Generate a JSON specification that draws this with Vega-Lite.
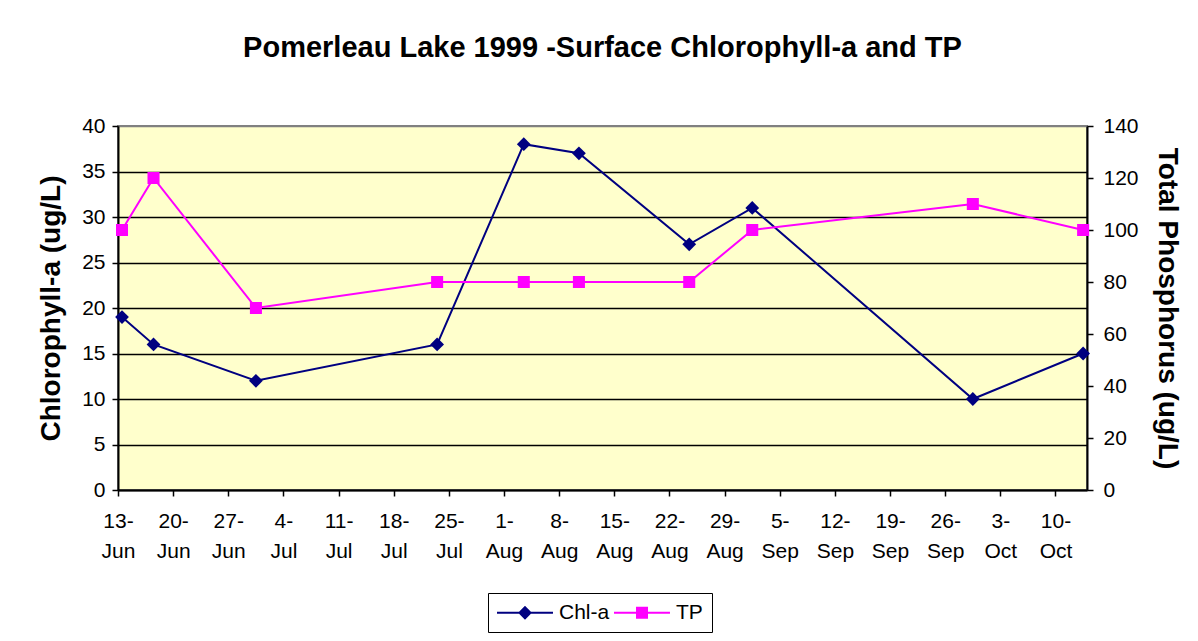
{
  "$schema": "https://vega.github.io/schema/vega-lite/v6.json",
  "width": 969,
  "height": 364,
  "autosize": {"type": "none"},
  "padding": {"left": 118, "top": 126, "right": 111, "bottom": 151},
  "background": "white",
  "title": {
    "text": "Pomerleau Lake 1999 -Surface Chlorophyll-a and TP",
    "font": "Liberation Sans",
    "fontSize": 29,
    "fontWeight": "bold",
    "color": "black",
    "anchor": "middle",
    "offset": 52
  },
  "config": {
    "font": "Liberation Sans",
    "view": {"fill": "#FFFFCC", "stroke": "#808080", "strokeWidth": 2},
    "axis": {
      "labelFont": "Liberation Sans",
      "labelFontSize": 21,
      "labelColor": "black",
      "titleFont": "Liberation Sans",
      "titleFontSize": 28,
      "titleFontWeight": "bold",
      "titleColor": "black",
      "domainColor": "black",
      "domainWidth": 2,
      "tickColor": "black",
      "tickWidth": 1.5,
      "tickSize": 6
    },
    "legend": {
      "labelFont": "Liberation Sans",
      "labelFontSize": 21,
      "labelColor": "black"
    }
  },
  "data": {
    "values": [
      {"date": "1999-06-13", "series": "Chl-a", "value": 19},
      {"date": "1999-06-17", "series": "Chl-a", "value": 16},
      {"date": "1999-06-30", "series": "Chl-a", "value": 12},
      {"date": "1999-07-23", "series": "Chl-a", "value": 16},
      {"date": "1999-08-03", "series": "Chl-a", "value": 38},
      {"date": "1999-08-10", "series": "Chl-a", "value": 37},
      {"date": "1999-08-24", "series": "Chl-a", "value": 27},
      {"date": "1999-09-01", "series": "Chl-a", "value": 31},
      {"date": "1999-09-29", "series": "Chl-a", "value": 10},
      {"date": "1999-10-13", "series": "Chl-a", "value": 15},
      {"date": "1999-06-13", "series": "TP", "value": 100},
      {"date": "1999-06-17", "series": "TP", "value": 120},
      {"date": "1999-06-30", "series": "TP", "value": 70},
      {"date": "1999-07-23", "series": "TP", "value": 80},
      {"date": "1999-08-03", "series": "TP", "value": 80},
      {"date": "1999-08-10", "series": "TP", "value": 80},
      {"date": "1999-08-24", "series": "TP", "value": 80},
      {"date": "1999-09-01", "series": "TP", "value": 100},
      {"date": "1999-09-29", "series": "TP", "value": 110},
      {"date": "1999-10-13", "series": "TP", "value": 100}
    ]
  },
  "encoding": {
    "x": {
      "field": "date",
      "type": "temporal",
      "scale": {
        "type": "utc",
        "domain": [
          {"year": 1999, "month": 6, "date": 13, "utc": true},
          {"year": 1999, "month": 10, "date": 14, "utc": true}
        ]
      },
      "axis": {
        "title": null,
        "grid": false,
        "tickCount": {"interval": "week", "step": 1},
        "labelExpr": "[utcFormat(datum.value, '%-d-'), utcFormat(datum.value, '%b')]",
        "labelLineHeight": 30,
        "labelPadding": 14,
        "labelAngle": 0,
        "labelOverlap": false,
        "labelFlush": false
      }
    },
    "color": {
      "field": "series",
      "type": "nominal",
      "scale": {"domain": ["Chl-a", "TP"], "range": ["#000080", "#FF00FF"]},
      "legend": {
        "title": null,
        "orient": "none",
        "legendX": 370,
        "legendY": 467,
        "direction": "horizontal",
        "strokeColor": "black",
        "fillColor": "white",
        "padding": 9,
        "columnPadding": 0,
        "labelOffset": 41,
        "symbolSize": 144,
        "symbolStrokeWidth": 2,
        "encode": {
          "symbols": {
            "update": {
              "shape": {"signal": "datum.value === 'Chl-a' ? 'M-1.75,0L7.58,0M2.917,-0.917L3.834,0L2.917,0.917L2,0Z' : 'M-1.75,0L7.58,0M2.084,-0.833L3.75,-0.833L3.75,0.833L2.084,0.833Z'"},
              "size": {"value": 144},
              "stroke": {"signal": "datum.value === 'Chl-a' ? '#000080' : '#FF00FF'"},
              "fill": {"signal": "datum.value === 'Chl-a' ? '#000080' : '#FF00FF'"},
              "strokeWidth": {"value": 2},
              "opacity": {"value": 1}
            }
          }
        }
      }
    }
  },
  "layer": [
    {
      "transform": [{"filter": "datum.series === 'Chl-a'"}],
      "encoding": {
        "y": {
          "field": "value",
          "type": "quantitative",
          "scale": {"domain": [0, 40], "nice": false},
          "axis": {
            "orient": "left",
            "title": "Chlorophyll-a (ug/L)",
            "values": [0, 5, 10, 15, 20, 25, 30, 35, 40],
            "grid": true,
            "gridColor": {"condition": {"test": "datum.value === 40", "value": "#808080"}, "value": "black"},
            "gridWidth": 1.3,
            "labelPadding": 7,
            "titlePadding": 16
          }
        }
      },
      "layer": [
        {"mark": {"type": "line", "strokeWidth": 2, "xOffset": 4}},
        {"mark": {"type": "point", "shape": "diamond", "filled": true, "opacity": 1, "size": 190, "xOffset": 4}}
      ]
    },
    {
      "transform": [{"filter": "datum.series === 'TP'"}],
      "encoding": {
        "y": {
          "field": "value",
          "type": "quantitative",
          "scale": {"domain": [0, 140], "nice": false},
          "axis": {
            "orient": "right",
            "title": "Total Phosphorus (ug/L)",
            "values": [0, 20, 40, 60, 80, 100, 120, 140],
            "grid": false,
            "labelPadding": 10,
            "titlePadding": 14
          }
        }
      },
      "layer": [
        {"mark": {"type": "line", "strokeWidth": 2, "xOffset": 4}},
        {"mark": {"type": "point", "shape": "square", "filled": true, "opacity": 1, "size": 145, "xOffset": 4}}
      ]
    }
  ],
  "resolve": {"scale": {"y": "independent"}}
}
